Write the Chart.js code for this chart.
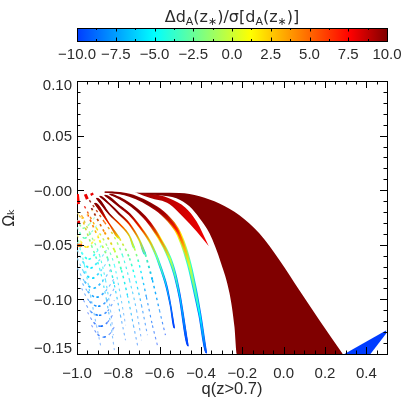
<!DOCTYPE html>
<html>
<head>
<meta charset="utf-8">
<style>
  html, body { margin: 0; background: #fff; }
  #wrap { position: relative; width: 407px; height: 407px; overflow: hidden; }
  canvas { position: absolute; left: 0; top: 0; }
</style>
<script src="https://cdn.jsdelivr.net/npm/chart.js@4"></script>
</head>
<body>
<div id="wrap">
  <canvas id="barChart" width="407" height="75"></canvas>
  <canvas id="mainChart" width="407" height="407"></canvas>
</div>
<script>
// axis ticks
const xTicks = [-1.0, -0.8, -0.6, -0.4, -0.2, 0.0, 0.2, 0.4];
const xLabels = ['\u22121.0', '\u22120.8', '\u22120.6', '\u22120.4', '\u22120.2', '0.0', '0.2', '0.4'];
const yTicks = [0.10, 0.05, 0.00, -0.05, -0.10, -0.15];
const yLabels = ['0.10', '0.05', '\u22120.00', '\u22120.05', '\u22120.10', '\u22120.15'];
const barTicks = [-10, -7.5, -5, -2.5, 0, 2.5, 5, 7.5, 10];
const barLabels = ['\u221210.0', '\u22127.5', '\u22125.0', '\u22122.5', '0.0', '2.5', '5.0', '7.5', '10.0'];

// colour table of the bar
const mapValues = [-10, -5, 1.2, 7.6, 10];
const mapColors = [[0, 60, 255], [0, 255, 255], [255, 255, 0], [255, 0, 0], [128, 0, 0]];

// large regions, upper and lower edge
const mainUpperQ = [-0.722, -0.649, -0.601, -0.504, -0.407, -0.311, -0.214, -0.117, -0.020, 0.076, 0.173, 0.286];
const mainUpperO = [-0.0023, -0.0023, -0.0023, -0.0025, -0.0055, -0.0122, -0.0229, -0.0397, -0.0641, -0.0916, -0.119, -0.15];
const mainLowerQ = [-0.722, -0.649, -0.601, -0.519, -0.456, -0.407, -0.359, -0.303, -0.262, -0.238, -0.227, 0.286];
const mainLowerO = [-0.0023, -0.0037, -0.0046, -0.0073, -0.0147, -0.0256, -0.0394, -0.0668, -0.0943, -0.1252, -0.15, -0.15];
const redUpperQ = [-0.712, -0.649, -0.552, -0.475, -0.422, -0.362];
const redUpperO = [-0.0023, -0.003, -0.0075, -0.016, -0.0284, -0.0513];
const redLowerQ = [-0.712, -0.649, -0.552, -0.490, -0.422, -0.362];
const redLowerO = [-0.0023, -0.0070, -0.0128, -0.0238, -0.0375, -0.0513];
const blueUpperQ = [0.294, 0.497];
const blueUpperO = [-0.15, -0.1282];
const blueLowerQ = [0.294, 0.42, 0.497];
const blueLowerO = [-0.15, -0.15, -0.131];
const mainValue = 10;
const redLeftValue = 9.6;
const redRightValue = 7.8;
const blueValue = -10;

// narrow arcs falling to the right
const arcQ = [
  [-0.867, -0.794, -0.746, -0.712, -0.649, -0.586, -0.519, -0.504, -0.480, -0.456, -0.432, -0.407, -0.373],
  [-0.843, -0.794, -0.746, -0.698, -0.649, -0.601, -0.552, -0.528, -0.504, -0.461],
  [-0.867, -0.794, -0.746, -0.698, -0.649, -0.615, -0.591, -0.567, -0.548, -0.528],
  [-0.891, -0.843, -0.794, -0.746, -0.698, -0.669, -0.635, -0.601, -0.572],
  [-0.906, -0.843, -0.794, -0.746, -0.722, -0.698, -0.664, -0.635, -0.611],
  [-0.915, -0.843, -0.794, -0.746, -0.722, -0.688, -0.659],
  [-0.940, -0.867, -0.819, -0.780, -0.746, -0.712, -0.688],
  [-0.930, -0.867, -0.819, -0.785, -0.756, -0.727, -0.707],
  [-0.964, -0.906, -0.852, -0.819, -0.790, -0.765],
  [-0.949, -0.891, -0.852, -0.819, -0.790, -0.765],
  [-0.978, -0.940, -0.891, -0.862, -0.838, -0.824],
  [-0.969, -0.930, -0.891, -0.857, -0.833, -0.819],
  [-0.993, -0.964, -0.935, -0.906, -0.886]
];
const arcO = [
  [-0.0018, -0.0027, -0.0046, -0.0069, -0.0128, -0.0211, -0.0357, -0.0412, -0.0531, -0.0687, -0.0889, -0.1127, -0.1493],
  [-0.0037, -0.0073, -0.0128, -0.0201, -0.0302, -0.0440, -0.0623, -0.0760, -0.0962, -0.1429],
  [-0.0046, -0.0147, -0.0220, -0.0330, -0.0467, -0.0605, -0.0733, -0.0880, -0.1050, -0.1264],
  [-0.0055, -0.0128, -0.0220, -0.0311, -0.0458, -0.0586, -0.0824, -0.1099, -0.1328],
  [-0.0073, -0.0220, -0.0311, -0.0421, -0.0531, -0.0687, -0.0980, -0.1237, -0.1420],
  [-0.0119, -0.0311, -0.0440, -0.0623, -0.0779, -0.1053, -0.1328],
  [-0.0092, -0.0293, -0.0430, -0.0595, -0.0824, -0.1099, -0.1374],
  [-0.0165, -0.0385, -0.0549, -0.0733, -0.0962, -0.1237, -0.1420],
  [-0.0147, -0.0348, -0.0522, -0.0687, -0.0962, -0.1237],
  [-0.0220, -0.0458, -0.0623, -0.0870, -0.1145, -0.1374],
  [-0.0229, -0.0385, -0.0595, -0.0824, -0.1099, -0.1328],
  [-0.0293, -0.0504, -0.0714, -0.1007, -0.1282, -0.1465],
  [-0.0458, -0.0687, -0.0962, -0.1237, -0.1420]
];
const arcV = [
  [10, 10, 10, 10, 10, 9.5, 7, 5.5, 3, 0, -2.5, -5, -9.5],
  [10, 10, 10, 10, 9, 5, 0, -3, -6, -10],
  [10, 10, 9.5, 8, 3.5, -1, -3.5, -6, -8, -10],
  [10, 10, 10, 8, 3, -3, -7, -8, -10],
  [10, 10, 7, 3, 0, -5, -8, -9, -10],
  [10, 8, 2, -3, -5, -8, -9],
  [10, 5, 0, -4, -6, -8, -9],
  [10, 4, 0, -4, -6, -8, -9],
  [8, 2, -2, -5, -7, -9],
  [7, 1, -3, -6, -8, -9],
  [4, -1, -4, -6, -8, -9],
  [3, -2, -5, -7, -8, -9],
  [-2, -5, -7, -8.5, -9]
];

// upward-curving chains of dots in the left part
const cupQ = [
  [-0.930, -0.901, -0.872, -0.843, -0.814],
  [-0.949, -0.920, -0.886, -0.852, -0.819],
  [-0.969, -0.935, -0.894, -0.852, -0.819],
  [-0.978, -0.940, -0.898, -0.857, -0.819],
  [-0.988, -0.949, -0.906, -0.862, -0.819],
  [-0.998, -0.964, -0.920, -0.877, -0.833],
  [-0.998, -0.969, -0.927, -0.886, -0.843],
  [-0.998, -0.973, -0.935, -0.896, -0.857],
  [-0.998, -0.978, -0.944, -0.906, -0.872],
  [-0.998, -0.983, -0.954, -0.920, -0.886],
  [-0.998, -0.988, -0.964, -0.930, -0.901],
  [-0.998, -0.988, -0.973, -0.940, -0.911],
  [-0.998, -0.990, -0.978, -0.950, -0.925]
];
const cupO = [
  [-0.1236, -0.1319, -0.1346, -0.1319, -0.1236],
  [-0.1117, -0.1209, -0.1246, -0.1209, -0.1117],
  [-0.1007, -0.1108, -0.1145, -0.1108, -0.1007],
  [-0.0898, -0.1017, -0.1063, -0.1017, -0.0898],
  [-0.0806, -0.0925, -0.0980, -0.0925, -0.0806],
  [-0.0714, -0.0834, -0.0898, -0.0834, -0.0714],
  [-0.0623, -0.0742, -0.0806, -0.0742, -0.0623],
  [-0.0549, -0.0650, -0.0714, -0.0650, -0.0549],
  [-0.0476, -0.0568, -0.0632, -0.0568, -0.0476],
  [-0.0412, -0.0467, -0.0522, -0.0467, -0.0385],
  [-0.0339, -0.0385, -0.0440, -0.0385, -0.0311],
  [-0.0275, -0.0311, -0.0348, -0.0311, -0.0238],
  [-0.0201, -0.0229, -0.0256, -0.0229, -0.0183]
];
const cupV = [-9, -9, -8.5, -8, -7.5, -7, -6, -5.5, -4.5, 2, -3, -2, 3];

// short red strokes at the far left
const stubQ = [[-0.998, -0.993], [-0.960, -0.950], [-0.930, -0.925], [-0.998, -0.985], [-0.998, -0.975]];
const stubO = [[-0.0037, -0.0128], [-0.0037, -0.0082], [-0.0027, -0.0046], [-0.0293, -0.0293], [-0.0504, -0.0504]];
const stubV = [7.5, 8, 8, 8, 5];

// pen widths and dash starts
const arcPen = [
  [1.2, 2.4, 3, 3.5, 4, 4.5, 5, 5, 5, 4.6, 4.2, 3.2, 1.2],
  [1.2, 2.4, 2.8, 3, 3.2, 3.5, 3.6, 3.2, 2.5, 0.9],
  [0.9, 2.2, 2.4, 2.4, 2.4, 2.4, 2.4, 2.2, 1.7, 1],
  [0.9, 1.6, 2, 2, 2, 2, 1.7, 1.1, 0.9],
  [1.2, 1.6, 1.7, 1.7, 1.7, 1.5, 1.2, 1, 0.7],
  [1.3, 1.5, 1.6, 1.6, 1.4, 1, 0.7],
  [1.3, 1.5, 1.5, 1.3, 1, 0.7, 0.5],
  [1.5, 1.8, 1.8, 1.6, 1.3, 0.9, 0.6],
  [1.3, 1.5, 1.3, 1, 0.7, 0.4],
  [1.5, 1.8, 1.6, 1.3, 0.9, 0.5],
  [1.3, 1.4, 1.2, 0.9, 0.6, 0.4],
  [1.5, 1.6, 1.3, 1, 0.6, 0.4],
  [1.2, 1, 0.8, 0.5, 0.4]
];
const arcDashFrom = [99, 99, 99, 5, 4, 2, 0, 0, 0, 0, 0, 0, 0];
const cupPen = [1.8, 2.2, 2.3, 2.4, 2.5, 2.5, 2.5, 2.5, 2.5, 2.4, 2.2, 2, 2];

// the tick labels at both ends sit inside the axis range
const yLabelShift = { '0.10': 5, '0.05': 1.5, '\u22120.00': 1.5, '\u22120.05': 1.5, '\u22120.10': 1.5, '\u22120.15': -5 };

// pixels per data unit of the plot box, for turning pen widths into ribbon edges
const pxPerQ = 310 / 1.5;
const pxPerO = 273 / 0.25;

function colorOf(v, fade) {
  v = Math.max(-10, Math.min(10, v));
  let i = 0;
  while (i < mapValues.length - 2 && v > mapValues[i + 1]) i++;
  const t = (v - mapValues[i]) / (mapValues[i + 1] - mapValues[i]);
  const f = fade || 0;
  const c = mapColors[i].map((a, k) => Math.round((a + (mapColors[i + 1][k] - a) * t) * (1 - f) + 255 * f));
  return `rgb(${c[0]}, ${c[1]}, ${c[2]})`;
}

const toPoints = (qs, os) => qs.map((q, i) => ({ x: q, y: os[i] }));
const edgeValue = v => (v > 8 ? v - 0.5 : v - 4);
const thinFade = pen => Math.max(0, 1 - pen / 1.6) * 0.8;

function region(qs, os, value, fillTarget, curved) {
  return {
    data: toPoints(qs, os), showLine: true, pointRadius: 0, borderWidth: 0,
    cubicInterpolationMode: curved ? 'monotone' : 'default',
    borderColor: colorOf(value), backgroundColor: colorOf(value), fill: fillTarget, order: 0
  };
}

// solid part of an arc: two edges with the fill between, coloured down the arc
function ribbon(qs, os, values, pens, penScale, order) {
  const upper = [], lower = [];
  qs.forEach((q, i) => {
    const a = Math.max(i - 1, 0), b = Math.min(i + 1, qs.length - 1);
    const tx = (qs[b] - qs[a]) * pxPerQ, ty = (os[b] - os[a]) * pxPerO;
    const len = Math.hypot(tx, ty), h = pens[i] * penScale / 2;
    const dq = -ty / len * h / pxPerQ, dO = tx / len * h / pxPerO;
    upper.push({ x: q + dq, y: os[i] + dO });
    lower.push({ x: q - dq, y: os[i] - dO });
  });
  upper.unshift({ ...lower[0] });
  lower.push({ ...upper[upper.length - 1] });
  const paint = ctx => {
    const s = ctx.chart.scales.y;
    if (!s || !ctx.chart.chartArea) return colorOf(values[0]);
    const top = s.getPixelForValue(os[0]), bottom = s.getPixelForValue(os[os.length - 1]);
    const g = ctx.chart.ctx.createLinearGradient(0, top, 0, bottom);
    os.forEach((o, i) => {
      g.addColorStop(Math.min(1, (s.getPixelForValue(o) - top) / (bottom - top)), colorOf(values[i]));
    });
    return g;
  };
  const edge = { showLine: true, pointRadius: 0, borderWidth: 0, cubicInterpolationMode: 'monotone', order: order };
  return [
    { ...edge, data: upper, backgroundColor: paint, fill: '+1' },
    { ...edge, data: lower, fill: false }
  ];
}

// broken part of an arc
function stroke(qs, os, values, pens, order) {
  return {
    data: toPoints(qs, os), showLine: true, pointRadius: 0, cubicInterpolationMode: 'monotone', fill: false, order: order,
    borderColor: colorOf(values[0]), borderCapStyle: 'butt',
    segment: {
      borderColor: ctx => {
        const a = ctx.p0, b = ctx.p1, i = ctx.p0DataIndex, k = ctx.p1DataIndex;
        if (![a.x, a.y, b.x, b.y].every(Number.isFinite)) return colorOf(values[i]);
        const g = ctx.chart.ctx.createLinearGradient(a.x, a.y, b.x, b.y);
        g.addColorStop(0, colorOf(values[i], thinFade(pens[i])));
        g.addColorStop(1, colorOf(values[k], thinFade(pens[k])));
        return g;
      },
      borderWidth: ctx => Math.max(1.1, (pens[ctx.p0DataIndex] + pens[ctx.p1DataIndex]) / 2),
      borderDash: [2.5, 3.5]
    }
  };
}

const redBand = region(redUpperQ, redUpperO, redLeftValue, '+1', true);
redBand.backgroundColor = ctx => {
  const s = ctx.chart.scales.x;
  if (!s || !ctx.chart.chartArea) return colorOf(redLeftValue);
  const g = ctx.chart.ctx.createLinearGradient(s.getPixelForValue(redUpperQ[0]), 0, s.getPixelForValue(redUpperQ[5]), 0);
  g.addColorStop(0, colorOf(redLeftValue));
  g.addColorStop(1, colorOf(redRightValue));
  return g;
};

const datasets = [
  region(mainUpperQ, mainUpperO, mainValue, '+1', true),
  region(mainLowerQ, mainLowerO, mainValue, false, true),
  redBand,
  region(redLowerQ, redLowerO, redLeftValue, false, true),
  region(blueUpperQ, blueUpperO, blueValue, '+1', false),
  region(blueLowerQ, blueLowerO, blueValue, false, false)
];
arcQ.forEach((qs, i) => {
  const cut = arcDashFrom[i] + 1;
  const os = arcO[i], vs = arcV[i], pens = arcPen[i];
  if (cut > 1) {
    const q1 = qs.slice(0, cut), o1 = os.slice(0, cut), v1 = vs.slice(0, cut), p1 = pens.slice(0, cut);
    datasets.push(...ribbon(q1, o1, v1.map(edgeValue), p1, 1, 3));
    datasets.push(...ribbon(q1, o1, v1, p1, 0.55, 2));
  }
  if (cut <= qs.length) {
    const from = Math.max(cut - 1, 0);
    datasets.push(stroke(qs.slice(from), os.slice(from), vs.slice(from), pens.slice(from), 3));
  }
});
cupQ.forEach((qs, i) => {
  const v = cupV[i];
  datasets.push(stroke(qs, cupO[i], [v - 1, v - 0.5, v, v - 0.5, v - 1], [0.5, 0.9, cupPen[i], 0.9, 0.5], 2));
});
stubQ.forEach((qs, i) => {
  const ds = stroke(qs, stubO[i], [stubV[i], stubV[i]], [3, 3], 1);
  ds.segment.borderDash = undefined;
  datasets.push(ds);
});

const axisFont = { family: '"Liberation Sans", Arial, sans-serif', size: 15 };
const inkColor = '#2a2a2a';

// inward tick marks on all four sides and the top and right border
const mainFrame = {
  id: 'mainFrame',
  beforeDraw(chart) {
    chart.scales.y.getLabelItems().forEach(item => {
      if (item.moved) return;
      item.options.translation[1] += yLabelShift[item.label] || 0;
      item.moved = true;
    });
  },
  afterDraw(chart) {
    const { ctx, chartArea: a, scales: { x, y } } = chart;
    ctx.save();
    ctx.strokeStyle = '#000';
    ctx.lineWidth = 1;
    ctx.beginPath();
    ctx.moveTo(a.left, a.top + 0.5); ctx.lineTo(a.right + 0.5, a.top + 0.5);
    ctx.moveTo(a.right + 0.5, a.top); ctx.lineTo(a.right + 0.5, a.bottom);
    for (let n = 0; n <= 30; n++) {
      const px = Math.round(x.getPixelForValue(-1 + n * 0.05)) + 0.5;
      const len = n % 4 === 0 ? 7 : 3.5;
      ctx.moveTo(px, a.bottom); ctx.lineTo(px, a.bottom - len);
      ctx.moveTo(px, a.top); ctx.lineTo(px, a.top + len);
    }
    for (let n = 0; n <= 25; n++) {
      const py = Math.round(y.getPixelForValue(-0.15 + n * 0.01)) + 0.5;
      const len = n % 5 === 0 ? 7 : 3.5;
      ctx.moveTo(a.left, py); ctx.lineTo(a.left + len, py);
      ctx.moveTo(a.right, py); ctx.lineTo(a.right - len, py);
    }
    ctx.stroke();
    ctx.restore();
  }
};

new Chart(document.getElementById('mainChart'), {
  type: 'scatter',
  data: { datasets: datasets },
  plugins: [mainFrame],
  options: {
    responsive: false,
    animation: false,
    layout: { padding: { left: 0, right: 20, top: 81, bottom: 0 } },
    plugins: { legend: { display: false }, tooltip: { enabled: false } },
    scales: {
      x: {
        type: 'linear', min: -1, max: 0.5,
        grid: { display: false, drawTicks: false },
        border: { color: '#000', width: 1 },
        afterBuildTicks: s => { s.ticks = xTicks.map(v => ({ value: v })); },
        afterFit: s => { s.height = 53; },
        ticks: { callback: (v, i) => xLabels[i], color: inkColor, font: axisFont, padding: 11, maxRotation: 0, autoSkip: false },
        title: { display: true, text: 'q(z>0.7)', color: inkColor, font: { family: axisFont.family, size: 16.5 }, padding: { top: 0, bottom: 8 } }
      },
      y: {
        type: 'linear', min: -0.15, max: 0.1,
        grid: { display: false, drawTicks: false },
        border: { color: '#000', width: 1 },
        afterBuildTicks: s => { s.ticks = yTicks.map(v => ({ value: v })); },
        afterFit: s => { s.width = 77; },
        ticks: { callback: (v, i) => yLabels[i], color: inkColor, font: axisFont, padding: 5, autoSkip: false },
        title: { display: true, text: '\u03a9\u2096', color: inkColor, font: { family: '"DejaVu Sans", sans-serif', size: 15 }, padding: { top: 1, bottom: 0 } }
      }
    }
  }
});

// colour bar
const barTitleRuns = [
  ['\u0394d', 16, 0], ['A', 11, 3], ['(z', 16, 0], ['\u2217', 11, 3], [')/', 16, 0],
  ['\u03c3', 16, 0], ['[d', 16, 0], ['A', 11, 3], ['(z', 16, 0], ['\u2217', 11, 3], [')]', 16, 0]
];

const barFrame = {
  id: 'barFrame',
  afterDraw(chart) {
    const { ctx, chartArea: a, scales: { x } } = chart;
    ctx.save();
    ctx.strokeStyle = '#000';
    ctx.lineWidth = 1;
    ctx.strokeRect(a.left + 0.5, a.top + 0.5, a.right - a.left, a.bottom - a.top);
    ctx.beginPath();
    for (let n = 0; n <= 16; n++) {
      const px = Math.round(x.getPixelForValue(-10 + n * 1.25)) + 0.5;
      const len = n % 2 === 0 ? 3.5 : 2;
      ctx.moveTo(px, a.top); ctx.lineTo(px, a.top + len);
      ctx.moveTo(px, a.bottom); ctx.lineTo(px, a.bottom - len);
    }
    ctx.stroke();
    ctx.fillStyle = inkColor;
    ctx.textBaseline = 'alphabetic';
    let width = 0;
    barTitleRuns.forEach(r => { ctx.font = `${r[1]}px "DejaVu Sans", sans-serif`; width += ctx.measureText(r[0]).width; });
    let tx = (a.left + a.right) / 2 - width / 2;
    barTitleRuns.forEach(r => {
      ctx.font = `${r[1]}px "DejaVu Sans", sans-serif`;
      ctx.fillText(r[0], tx, 22 + r[2]);
      tx += ctx.measureText(r[0]).width;
    });
    ctx.restore();
  }
};

new Chart(document.getElementById('barChart'), {
  type: 'scatter',
  data: {
    datasets: [{
      data: [{ x: -10, y: 1 }, { x: 10, y: 1 }],
      showLine: true, pointRadius: 0, borderWidth: 0, fill: 'origin',
      backgroundColor: ctx => {
        const a = ctx.chart.chartArea;
        if (!a) return colorOf(0);
        const g = ctx.chart.ctx.createLinearGradient(a.left, 0, a.right, 0);
        mapValues.forEach(v => g.addColorStop((v + 10) / 20, colorOf(v)));
        return g;
      }
    }]
  },
  plugins: [barFrame],
  options: {
    responsive: false,
    animation: false,
    layout: { padding: { left: 77, right: 20, top: 28, bottom: 0 } },
    plugins: { legend: { display: false }, tooltip: { enabled: false } },
    scales: {
      x: {
        type: 'linear', min: -10, max: 10,
        grid: { display: false, drawTicks: false },
        border: { display: false },
        afterBuildTicks: s => { s.ticks = barTicks.map(v => ({ value: v })); },
        afterFit: s => { s.height = 34; },
        ticks: { callback: (v, i) => barLabels[i], color: inkColor, font: axisFont, padding: 5, maxRotation: 0, autoSkip: false }
      },
      y: { type: 'linear', min: 0, max: 1, display: false }
    }
  }
});
</script>
</body>
</html>
